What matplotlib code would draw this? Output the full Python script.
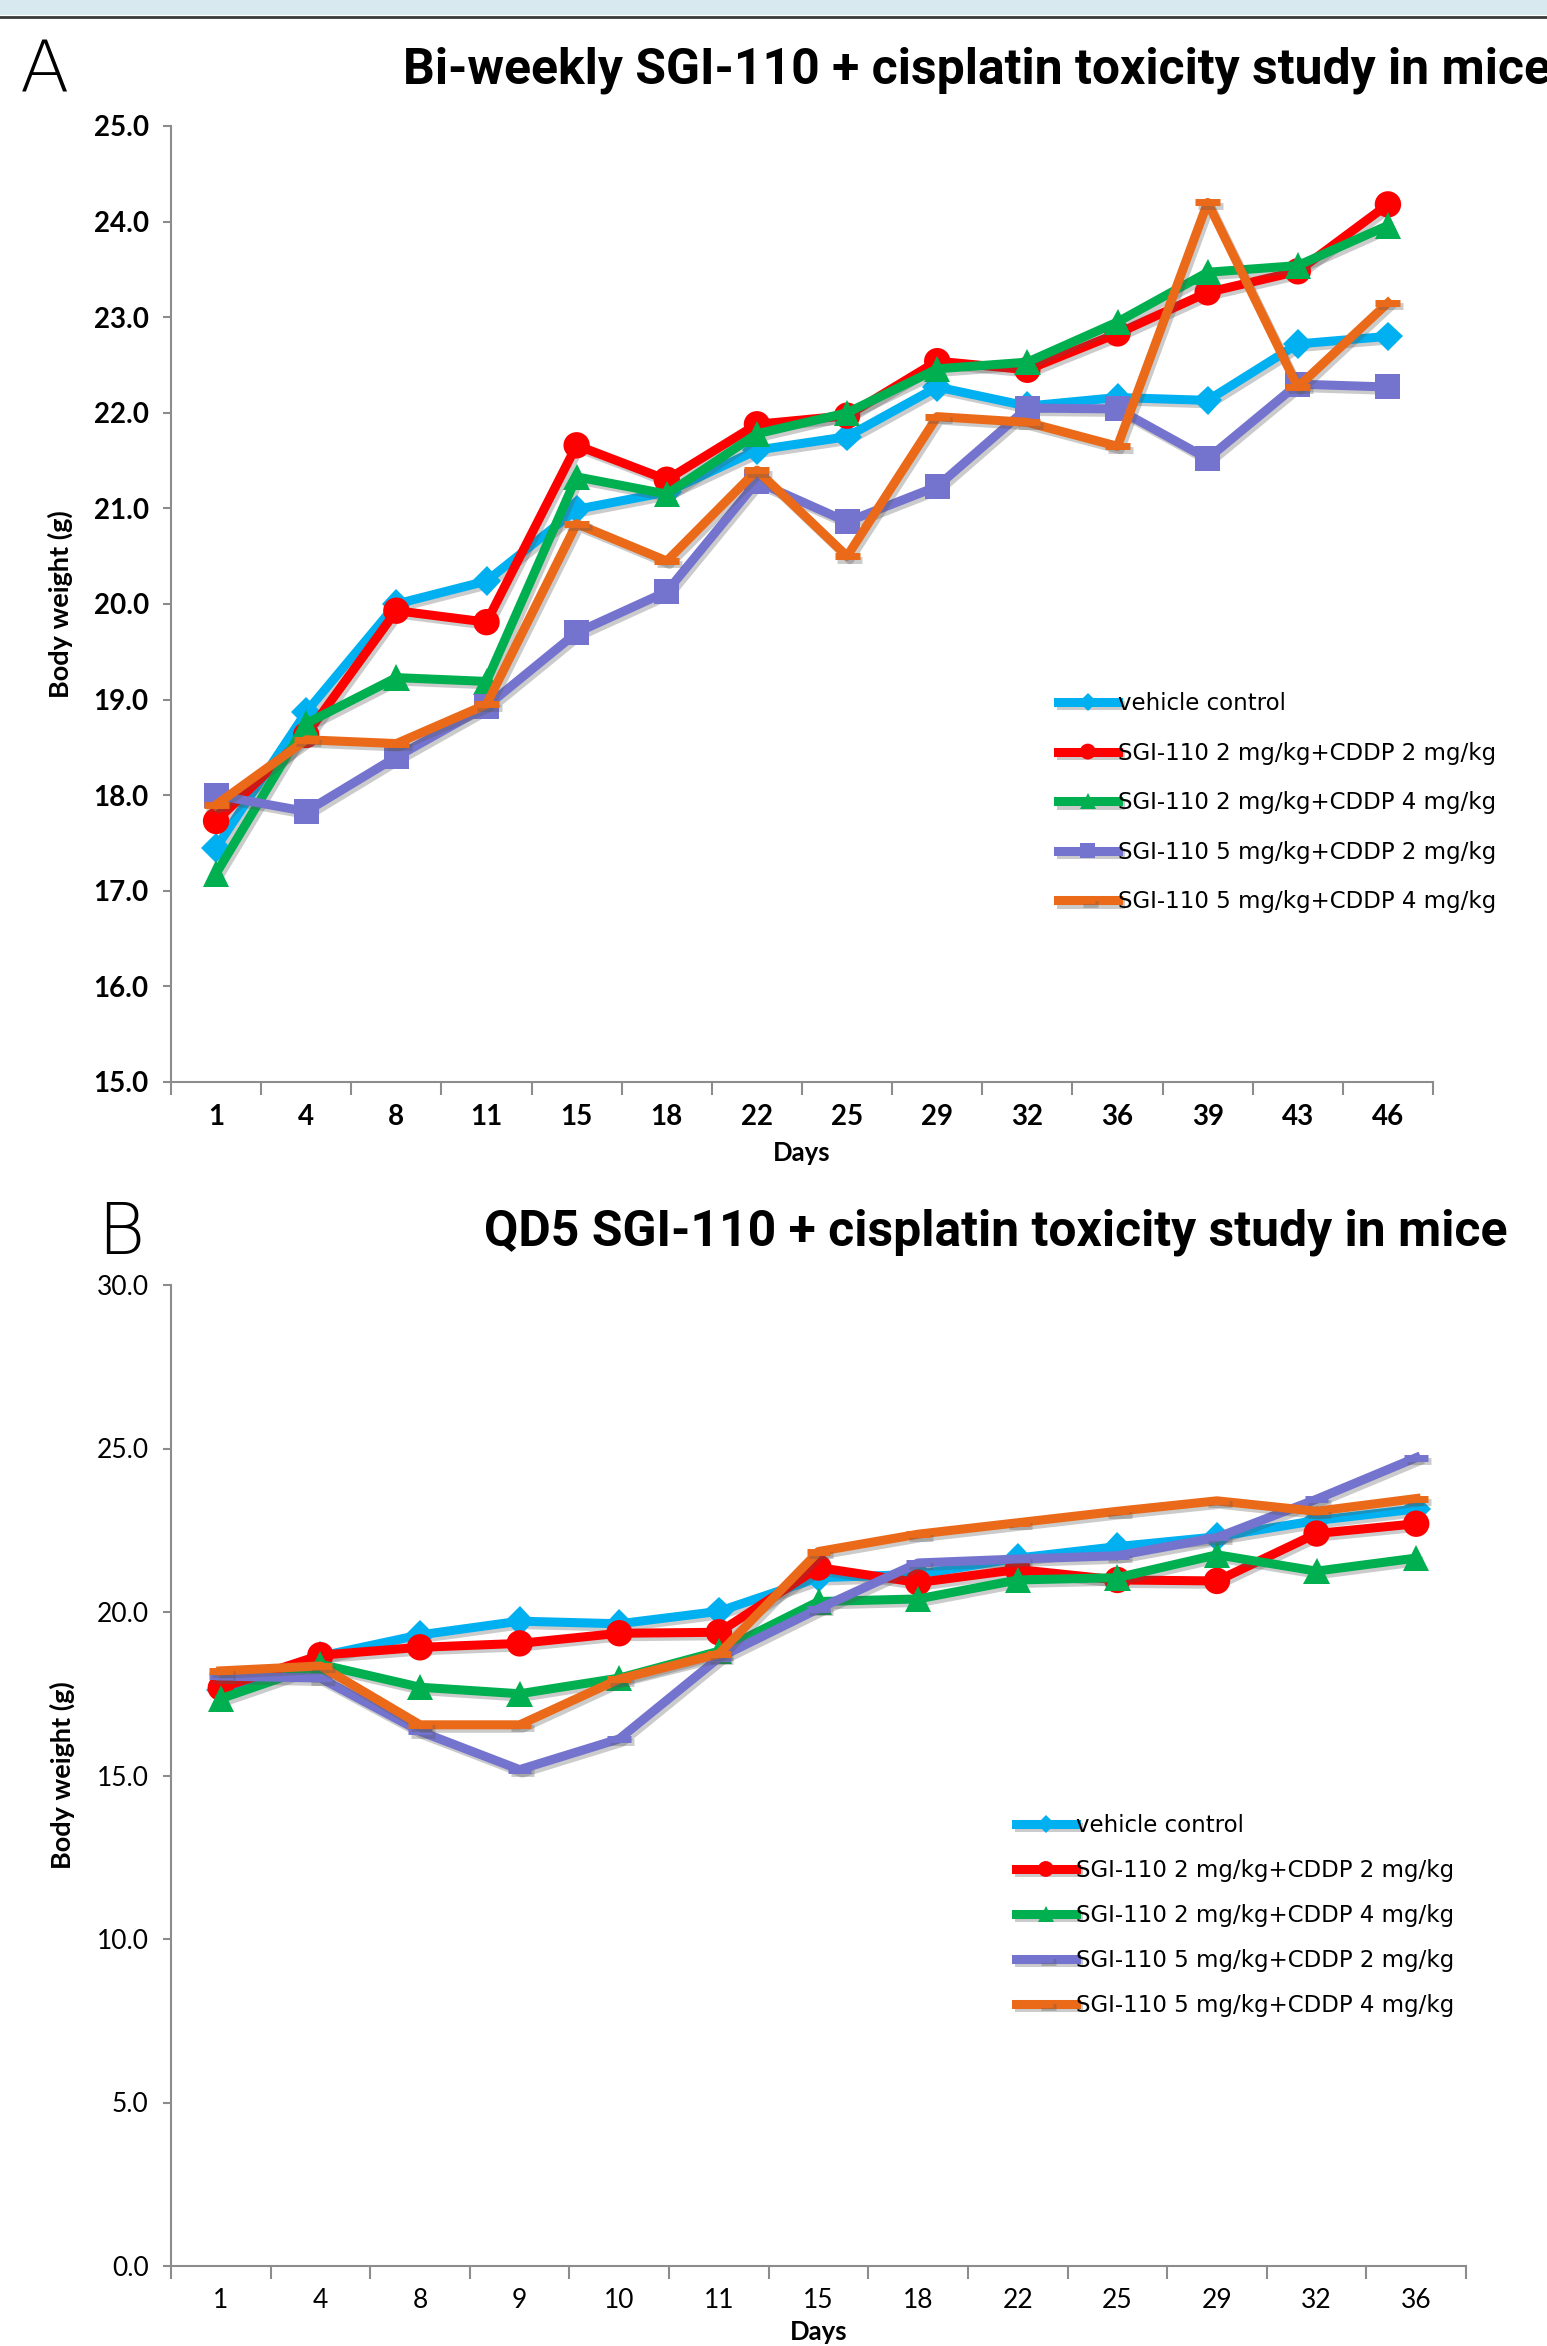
import matplotlib
matplotlib.use("Agg")
import matplotlib.pyplot as plt
import matplotlib.patheffects as pe
from matplotlib.patches import Rectangle
from matplotlib.lines import Line2D
from matplotlib.ticker import FormatStrFormatter
import numpy as np

# ---- data ----
SERIES = [
    "vehicle control",
    "SGI-110 2 mg/kg+CDDP 2 mg/kg",
    "SGI-110 2 mg/kg+CDDP 4 mg/kg",
    "SGI-110 5 mg/kg+CDDP 2 mg/kg",
    "SGI-110 5 mg/kg+CDDP 4 mg/kg",
]

days_a = ["1", "4", "8", "11", "15", "18", "22", "25", "29", "32", "36", "39", "43", "46"]
vehicle_a = [17.45, 18.87, 20.0, 20.24, 20.99, 21.17, 21.61, 21.75, 22.27, 22.07, 22.16, 22.13, 22.72, 22.80]
sgi2_cddp2_a = [17.73, 18.63, 19.93, 19.81, 21.66, 21.30, 21.88, 21.97, 22.54, 22.45, 22.83, 23.26, 23.48, 24.18]
sgi2_cddp4_a = [17.18, 18.75, 19.23, 19.19, 21.33, 21.15, 21.78, 22.00, 22.46, 22.53, 22.95, 23.47, 23.54, 23.96]
sgi5_cddp2_a = [18.00, 17.83, 18.40, 18.93, 19.70, 20.13, 21.28, 20.86, 21.23, 22.05, 22.04, 21.52, 22.30, 22.27]
sgi5_cddp4_a = [17.90, 18.58, 18.54, 18.95, 20.84, 20.45, 21.40, 20.50, 21.96, 21.90, 21.65, 24.20, 22.27, 23.15]

days_b = ["1", "4", "8", "9", "10", "11", "15", "18", "22", "25", "29", "32", "36"]
vehicle_b = [17.6, 18.65, 19.30, 19.72, 19.64, 20.02, 21.05, 21.15, 21.65, 22.00, 22.30, 22.80, 23.15]
sgi2_cddp2_b = [17.68, 18.68, 18.92, 19.04, 19.35, 19.38, 21.36, 20.90, 21.30, 20.98, 20.95, 22.40, 22.70]
sgi2_cddp4_b = [17.35, 18.40, 17.70, 17.50, 17.98, 18.80, 20.32, 20.40, 20.98, 21.05, 21.75, 21.25, 21.65]
sgi5_cddp2_b = [18.04, 17.98, 16.35, 15.18, 16.12, 18.60, 20.10, 21.50, 21.62, 21.72, 22.28, 23.45, 24.72]
sgi5_cddp4_b = [18.20, 18.35, 16.55, 16.55, 17.95, 18.72, 21.85, 22.38, 22.73, 23.08, 23.40, 23.08, 23.47]

COLORS = ["#00b0f0", "#ff0000", "#00b050", "#7474cf", "#ea6a19"]
MARKERS_A = ["D", "o", "^", "s", "_"]
MARKERS_B = ["D", "o", "^", "_", "_"]

TICK_FONT = "Lato"
TITLE_FONT = "Roboto"
LEG_FONT = "DejaVu Sans"

W, H = 1547, 2346
fig = plt.figure(figsize=(W / 100, H / 100), dpi=100)

# top banner
fig.patches.append(Rectangle((0, 1 - 15 / H), 1, 15 / H, transform=fig.transFigure,
                             facecolor="#d8eaf0", edgecolor="none"))
fig.add_artist(Line2D([0, 1], [1 - 16.5 / H, 1 - 16.5 / H], transform=fig.transFigure,
                      color="#3a3a3a", linewidth=2))

shadow = [pe.SimpleLineShadow(offset=(2, -2.5), shadow_color="#555555", alpha=0.3), pe.Normal()]


def draw_panel(ax, days, data, markers, ylim, bold, msizes, tick_size):
    x = np.arange(len(days))
    for vals, col, mk, ms, lab in zip(data, COLORS, markers, msizes, SERIES):
        ax.plot(x, vals, color=col, linewidth=6.5, marker=mk, markersize=ms,
                markeredgewidth=5 if mk == "_" else 0, markerfacecolor=col,
                markeredgecolor=col, label=lab, path_effects=shadow, zorder=3)
    ax.set_xlim(-0.5, len(days) - 0.5)
    ax.set_ylim(*ylim)
    for s in ("top", "right"):
        ax.spines[s].set_visible(False)
    for s in ("left", "bottom"):
        ax.spines[s].set_color("#8c8c8c")
        ax.spines[s].set_linewidth(1.5)
    ax.set_xticks(np.arange(len(days) + 1) - 0.5)
    ax.set_xticklabels([])
    ax.set_xticks(x, minor=True)
    ax.set_xticklabels(days, minor=True)
    ax.tick_params(axis="x", which="major", length=9, width=1.5, color="#8c8c8c", direction="out")
    ax.tick_params(axis="x", which="minor", length=0, pad=16)
    ax.tick_params(axis="y", length=6, width=1.5, color="#8c8c8c", direction="out", pad=10)
    ax.yaxis.set_major_formatter(FormatStrFormatter("%.1f"))
    wt = "bold" if bold else "normal"
    for t in ax.get_xticklabels(minor=True) + ax.get_yticklabels():
        t.set_fontfamily(TICK_FONT)
        t.set_fontweight(wt)
        t.set_fontsize(tick_size)


# ---- panel A ----
axA = fig.add_axes([171 / W, 1 - 1082 / H, (1433 - 171) / W, (1082 - 126) / H])
axA.set_yticks(np.arange(15, 25.1, 1))
draw_panel(axA, days_a, [vehicle_a, sgi2_cddp2_a, sgi2_cddp4_a, sgi5_cddp2_a, sgi5_cddp4_a],
           MARKERS_A, (15, 25), True, [15, 19, 19, 18, 18], 20)
axA.set_xlabel("Days", fontsize=18.5, fontweight="bold", fontfamily=TICK_FONT, labelpad=8)
axA.set_ylabel("Body weight (g)", fontsize=19.5, fontweight="bold", fontfamily=TICK_FONT)
axA.yaxis.set_label_coords(-0.078, 0.5)
axA.legend(loc="upper left", bbox_to_anchor=(1058 / W, 1 - 692 / H),
           bbox_transform=fig.transFigure, frameon=False, borderpad=0, borderaxespad=0,
           handlelength=2.6, handletextpad=0.0, labelspacing=1.16,
           prop={"family": LEG_FONT, "size": 16.5}, markerscale=0.6)

# ---- panel B ----
axB = fig.add_axes([171 / W, 1 - 2266 / H, (1466 - 171) / W, (2266 - 1285) / H])
axB.set_yticks(np.arange(0, 30.1, 5))
draw_panel(axB, days_b, [vehicle_b, sgi2_cddp2_b, sgi2_cddp4_b, sgi5_cddp2_b, sgi5_cddp4_b],
           MARKERS_B, (0, 30), False, [15, 19, 19, 17, 17], 19)
axB.set_xlabel("Days", fontsize=18.5, fontweight="bold", fontfamily=TICK_FONT, labelpad=5)
axB.set_ylabel("Body weight (g)", fontsize=19.5, fontweight="bold", fontfamily=TICK_FONT)
axB.yaxis.set_label_coords(-0.074, 0.5)
axB.legend(loc="upper left", bbox_to_anchor=(1016 / W, 1 - 1814 / H),
           bbox_transform=fig.transFigure, frameon=False, borderpad=0, borderaxespad=0,
           handlelength=2.6, handletextpad=0.0, labelspacing=0.96,
           prop={"family": LEG_FONT, "size": 16.5}, markerscale=0.6)

# ---- panel letters and titles ----
fig.text(20 / W, 1 - 92 / H, "A", fontsize=52, fontfamily="DejaVu Sans", fontweight="light",
         ha="left", va="baseline")
fig.text(97 / W, 1 - 1254 / H, "B", fontsize=52, fontfamily="DejaVu Sans", fontweight="light",
         ha="left", va="baseline")
titleA = fig.text(403 / W, 1 - 84 / H, "Bi-weekly SGI-110 + cisplatin toxicity study in mice",
                  fontsize=36, fontweight="bold", family=TITLE_FONT, ha="left", va="baseline")
titleB = fig.text(484 / W, 1 - 1246 / H, "QD5 SGI-110 + cisplatin toxicity study in mice",
                  fontsize=36, fontweight="bold", family=TITLE_FONT, ha="left", va="baseline")

# fit title B to the width it spans in the reference; title A shares its size
renderer = fig.canvas.get_renderer()
wB = titleB.get_window_extent(renderer).width
size = 36 * (1507 - 484) / wB
titleA.set_fontsize(size)
titleB.set_fontsize(size)

fig.savefig("out.png", dpi=100)
